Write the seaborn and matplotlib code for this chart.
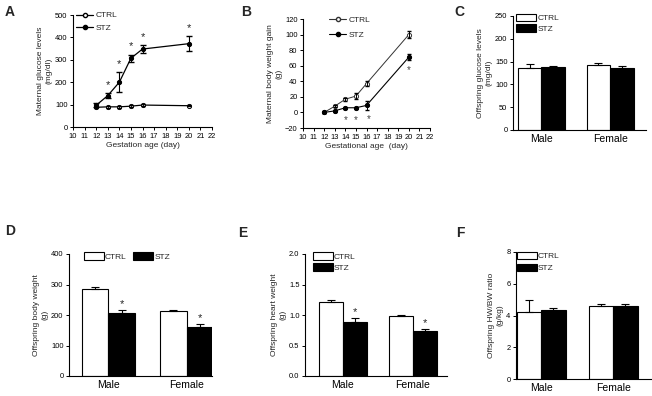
import numpy as np
import pandas as pd
import matplotlib
matplotlib.use("Agg")
import matplotlib.pyplot as plt
import seaborn as sns
from matplotlib.patches import Patch
from matplotlib.lines import Line2D

sns.set_style("ticks")
plt.rcParams['font.family'] = ['Liberation Sans', 'DejaVu Sans']

# ---------------- data ----------------
days = [12, 13, 14, 15, 16, 20]
glu_ctrl = [88, 90, 90, 93, 98, 95]
glu_ctrl_err = [3, 3, 3, 3, 3, 3]
glu_stz = [97, 140, 200, 307, 348, 372]
glu_stz_err = [8, 12, 45, 15, 18, 33]
glu_star_days = [13, 14, 15, 16, 20]

bw_ctrl = [0, 8, 17, 21, 37, 100]
bw_ctrl_err = [1, 1, 2, 4, 3, 5]
bw_stz = [0, 2, 6, 6, 9, 71]
bw_stz_err = [1, 1, 1, 1, 6, 4]
bw_star_x = [14, 15, 16.2, 20]
bw_star_y = [-10, -10, -9, 55]

sexes = ["Male", "Female"]
groups = ["CTRL", "STZ"]

c_ctrl = [137, 143]; c_ctrl_err = [8, 4]
c_stz = [138, 137]; c_stz_err = [3, 4]

d_ctrl = [285, 212]; d_ctrl_err = [8, 3]
d_stz = [205, 162]; d_stz_err = [10, 10]

e_ctrl = [1.21, 0.98]; e_ctrl_err = [0.04, 0.02]
e_stz = [0.89, 0.73]; e_stz_err = [0.06, 0.04]

f_ctrl = [4.25, 4.6]; f_ctrl_err = [0.7, 0.1]
f_stz = [4.35, 4.6]; f_stz_err = [0.15, 0.1]

# ---------------- figure ----------------
W, H = 652, 396
fig = plt.figure(figsize=(W / 100, H / 100), dpi=100)

def add_ax(x0, y0, x1, y1):
    return fig.add_axes([x0 / W, 1 - y1 / H, (x1 - x0) / W, (y1 - y0) / H])

TICK = 5.4
LAB = 6.0

def style(ax):
    sns.despine(ax=ax)
    for s in ["left", "bottom"]:
        ax.spines[s].set_linewidth(0.8)
        ax.spines[s].set_color("black")
    ax.tick_params(axis="both", length=2.5, width=0.7, pad=1.5, labelsize=TICK, colors="black")
    ax.set_facecolor("white")

# ---- Panel A ----
axA = add_ax(73, 15, 212, 127)
dfA = pd.DataFrame({"day": days * 2,
                    "val": glu_ctrl + glu_stz,
                    "grp": ["CTRL"] * 6 + ["STZ"] * 6})
sns.lineplot(data=dfA[dfA.grp == "CTRL"], x="day", y="val", ax=axA, color="black",
             lw=0.9, marker="o", markersize=3, markerfacecolor="white",
             markeredgecolor="black", markeredgewidth=0.7, errorbar=None)
sns.lineplot(data=dfA[dfA.grp == "STZ"], x="day", y="val", ax=axA, color="black",
             lw=0.9, marker="o", markersize=3, markerfacecolor="black",
             markeredgecolor="black", errorbar=None)
axA.errorbar(days, glu_stz, yerr=glu_stz_err, fmt="none", ecolor="black", elinewidth=0.8, capsize=2)
axA.errorbar(days, glu_ctrl, yerr=glu_ctrl_err, fmt="none", ecolor="black", elinewidth=0.6, capsize=1.5)
for d in glu_star_days:
    i = days.index(d)
    axA.text(d, glu_stz[i] + glu_stz_err[i] + 15, "*", ha="center", va="bottom", fontsize=8)
axA.set_xlim(10, 22)
axA.set_ylim(0, 500)
axA.set_xticks(range(10, 23))
axA.set_yticks(range(0, 501, 100))
axA.set_xlabel("Gestation age (day)", fontsize=LAB, labelpad=2)
axA.set_ylabel("Maternal glucose levels\n(mg/dl)", fontsize=LAB, labelpad=2)
style(axA)
hA = [Line2D([], [], color="black", lw=0.9, marker="o", ms=3, mfc="white", mec="black"),
      Line2D([], [], color="black", lw=0.9, marker="o", ms=3, mfc="black", mec="black")]
axA.legend(hA, groups, loc="upper left", bbox_to_anchor=(0.0, 1.06), frameon=False,
           fontsize=6, handlelength=2.0, handletextpad=0.3, labelspacing=0.6, borderaxespad=0)

# ---- Panel B ----
axB = add_ax(303, 19, 430, 128)
dfB = pd.DataFrame({"day": days * 2,
                    "val": bw_ctrl + bw_stz,
                    "grp": ["CTRL"] * 6 + ["STZ"] * 6})
sns.lineplot(data=dfB[dfB.grp == "CTRL"], x="day", y="val", ax=axB, color="#333333",
             lw=0.7, marker="o", markersize=3, markerfacecolor="white",
             markeredgecolor="#333333", markeredgewidth=0.7, errorbar=None)
sns.lineplot(data=dfB[dfB.grp == "STZ"], x="day", y="val", ax=axB, color="black",
             lw=0.8, marker="o", markersize=3, markerfacecolor="black",
             markeredgecolor="black", errorbar=None)
axB.errorbar(days, bw_ctrl, yerr=bw_ctrl_err, fmt="none", ecolor="black", elinewidth=0.7, capsize=1.5)
axB.errorbar(days, bw_stz, yerr=bw_stz_err, fmt="none", ecolor="black", elinewidth=0.7, capsize=1.5)
for sx, sy in zip(bw_star_x, bw_star_y):
    axB.text(sx, sy, "*", ha="center", va="center", fontsize=7, color="#444444")
axB.set_xlim(10, 22)
axB.set_ylim(-20, 120)
axB.set_xticks(range(10, 23))
axB.set_yticks(range(-20, 121, 20))
axB.set_xlabel("Gestational age  (day)", fontsize=LAB, labelpad=2)
axB.set_ylabel("Maternal body weight gain\n(g)", fontsize=LAB, labelpad=2)
style(axB)
hB = [Line2D([], [], color="#333333", lw=0.8, marker="o", ms=3, mfc="white", mec="#333333"),
      Line2D([], [], color="black", lw=0.8, marker="o", ms=3, mfc="black", mec="black")]
axB.legend(hB, groups, loc="upper left", bbox_to_anchor=(0.18, 1.06), frameon=False,
           fontsize=6, handlelength=2.0, handletextpad=0.3, labelspacing=0.9, borderaxespad=0)

# ---- bar panels ----
def bar_panel(box, ctrl, ctrl_err, stz, stz_err, ylim, yticks, ylabel, stars, star_off,
              xlim, legend_kw, yfmt=None):
    ax = add_ax(*box)
    df = pd.DataFrame({"sex": sexes * 2, "val": ctrl + stz,
                       "grp": ["CTRL"] * 2 + ["STZ"] * 2})
    sns.barplot(data=df, x="sex", y="val", hue="grp", hue_order=groups, order=sexes,
                palette={"CTRL": "white", "STZ": "black"}, edgecolor="black",
                linewidth=0.8, width=0.68, errorbar=None, ax=ax, legend=False)
    errs = [ctrl_err, stz_err]
    for cont, e in zip(ax.containers, errs):
        xs = [b.get_x() + b.get_width() / 2 for b in cont]
        ys = [b.get_height() for b in cont]
        ax.errorbar(xs, ys, yerr=[np.zeros(len(e)), e], fmt="none", ecolor="black",
                    elinewidth=0.8, capsize=3, capthick=0.8)
        if cont is ax.containers[1] and stars:
            for x, y, ee in zip(xs, ys, e):
                ax.text(x, y + ee + star_off, "*", ha="center", va="bottom", fontsize=8)
    ax.set_ylim(*ylim)
    ax.set_yticks(yticks)
    if yfmt:
        ax.set_yticklabels([yfmt.format(t) for t in yticks])
    ax.set_xlim(*xlim)
    ax.set_xlabel("")
    ax.set_ylabel(ylabel, fontsize=LAB, labelpad=2)
    style(ax)
    ax.tick_params(axis="x", labelsize=7.5, length=0, pad=3)
    hs = [Patch(facecolor="white", edgecolor="black", lw=0.8),
          Patch(facecolor="black", edgecolor="black", lw=0.8)]
    ax.legend(hs, groups, frameon=False, fontsize=6, handlelength=2.4, handleheight=1.0,
              handletextpad=0.15, borderaxespad=0, **legend_kw)
    return ax

bar_panel((513, 16, 646, 130), c_ctrl, c_ctrl_err, c_stz, c_stz_err, (0, 250),
          range(0, 251, 50), "Offspring glucose levels\n(mg/dl)", False, 0,
          (-0.41, 1.52), dict(loc="upper left", bbox_to_anchor=(0.0, 1.05), labelspacing=0.25))

bar_panel((69, 254, 212, 376), d_ctrl, d_ctrl_err, d_stz, d_stz_err, (0, 400),
          range(0, 401, 100), "Offspring body weight\n(g)", True, 3,
          (-0.5, 1.32), dict(loc="upper left", bbox_to_anchor=(0.08, 1.04), ncol=2,
                             columnspacing=0.8))

bar_panel((305, 254, 447, 376), e_ctrl, e_ctrl_err, e_stz, e_stz_err, (0, 2.0),
          [0, 0.5, 1.0, 1.5, 2.0], "Offspring heart weight\n(g)", True, 0.01,
          (-0.54, 1.49), dict(loc="upper left", bbox_to_anchor=(0.03, 1.04), labelspacing=0.25),
          yfmt="{:.1f}")

bar_panel((516, 252, 652, 379), f_ctrl, f_ctrl_err, f_stz, f_stz_err, (0, 8),
          range(0, 9, 2), "Offspring HW/BW ratio\n(g/kg)", False, 0,
          (-0.35, 1.54), dict(loc="upper left", bbox_to_anchor=(-0.02, 1.03), labelspacing=0.45))

# panel letters
for lab, (x, y) in {"A": (5, 12), "B": (241, 12), "C": (454, 12),
                    "D": (5, 231), "E": (238, 233), "F": (456, 233)}.items():
    fig.text(x / W, 1 - y / H, lab, fontsize=10, fontweight="bold", va="center", ha="left")

fig.savefig("out.png", dpi=100, facecolor="white")
